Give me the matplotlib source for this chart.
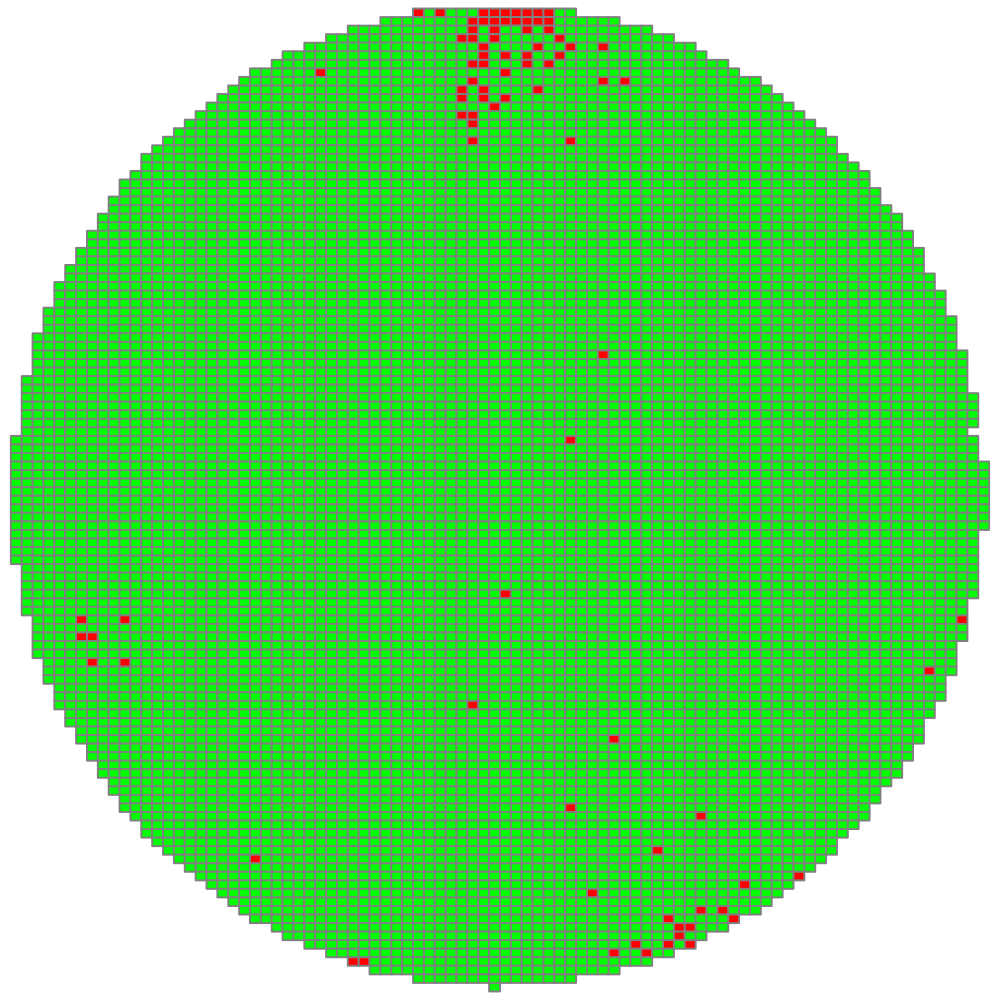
import numpy as np
import matplotlib
matplotlib.use("Agg")
import matplotlib.pyplot as plt
from matplotlib.colors import ListedColormap, BoundaryNorm

# Wafer map: 117 x 92 die grid; die rows 1..115 carry dies
n_rows, n_cols = 117, 92
first_row = 1

# first / last die column of each row (rows 1..115)
row_start = [38, 35, 32, 30, 28, 26, 25, 23, 22, 21,
             20, 19, 18, 17, 16, 15, 14, 13, 13, 12,
             11, 11, 10, 10, 9, 9, 8, 8, 7, 7,
             6, 6, 5, 5, 5, 4, 4, 4, 3, 3,
             3, 3, 3, 2, 2, 2, 2, 2, 2, 2,
             1, 1, 1, 1, 1, 1, 1, 1, 1, 1,
             1, 1, 1, 1, 1, 2, 2, 2, 2, 2,
             2, 3, 3, 3, 3, 3, 4, 4, 4, 5,
             5, 5, 6, 6, 7, 7, 8, 8, 9, 9,
             10, 10, 11, 11, 12, 13, 13, 14, 15, 16,
             17, 18, 19, 20, 21, 22, 23, 25, 26, 28,
             30, 32, 34, 38, 45]
row_end = [52, 56, 59, 61, 63, 64, 66, 67, 69, 70,
           71, 72, 73, 74, 75, 76, 76, 77, 78, 79,
           79, 80, 80, 81, 82, 82, 83, 83, 84, 84,
           84, 85, 85, 86, 86, 86, 87, 87, 87, 87,
           88, 88, 88, 88, 88, 89, 89, 89, 89, 88,
           89, 89, 89, 90, 90, 90, 90, 90, 90, 90,
           90, 89, 89, 89, 89, 89, 89, 89, 89, 88,
           88, 88, 88, 88, 87, 87, 87, 87, 86, 86,
           86, 85, 85, 84, 84, 84, 83, 83, 82, 82,
           81, 80, 80, 79, 79, 78, 77, 76, 76, 75,
           74, 73, 72, 71, 70, 69, 67, 66, 64, 63,
           61, 59, 56, 52, 45]

# failing dies (row, column)
defect_rows = [1, 1, 1, 1, 1, 1, 1, 1, 1,
               2, 2, 2, 2, 2, 2, 2, 2,
               3, 3, 3, 3,
               4, 4, 4, 4,
               5, 5, 5, 5,
               6, 6, 6, 6,
               7, 7, 7, 7,
               8, 8,
               9, 9, 9,
               10, 10, 10,
               11, 11, 11,
               12,
               13, 13,
               14,
               16, 16,
               41, 51, 69,
               72, 72, 72,
               74, 74,
               77, 77,
               78, 82, 86, 94, 95, 99, 100, 102, 103, 104,
               106, 106, 107, 107, 108, 108, 109,
               110, 110, 110, 111, 111, 112, 112]
defect_cols = [38, 40, 44, 45, 46, 47, 48, 49, 50,
               43, 44, 45, 46, 47, 48, 49, 50,
               43, 45, 48, 50,
               42, 43, 45, 51,
               44, 49, 52, 55,
               44, 46, 48, 51,
               43, 44, 48, 50,
               29, 46,
               43, 55, 57,
               42, 44, 49,
               42, 44, 46,
               45,
               42, 43,
               43,
               43, 52,
               55, 52, 46,
               7, 11, 88,
               7, 8,
               8, 11,
               85, 43, 56, 52, 64, 60, 23, 73, 68, 54,
               64, 66, 61, 67, 62, 63, 62,
               58, 61, 63, 56, 59, 32, 33]

PASS, FAIL = 1, 2
grid = np.full((n_rows, n_cols), np.nan)
for i, (s, e) in enumerate(zip(row_start, row_end)):
    grid[first_row + i, s:e + 1] = PASS
for r, c in zip(defect_rows, defect_cols):
    grid[r, c] = FAIL

cmap = ListedColormap(['#00ff00', '#ff0000'])
norm = BoundaryNorm([0.5, 1.5, 2.5], cmap.N)

fig = plt.figure(figsize=(10, 10), dpi=100)
ax = fig.add_axes([0, 0, 1, 1])
ax.pcolor(np.ma.masked_invalid(grid), cmap=cmap, norm=norm,
          edgecolors='#808080', linewidth=1.4)
ax.set_xlim(0, n_cols)
ax.set_ylim(n_rows, 0)
ax.axis('off')
fig.savefig('out.png', dpi=100)
